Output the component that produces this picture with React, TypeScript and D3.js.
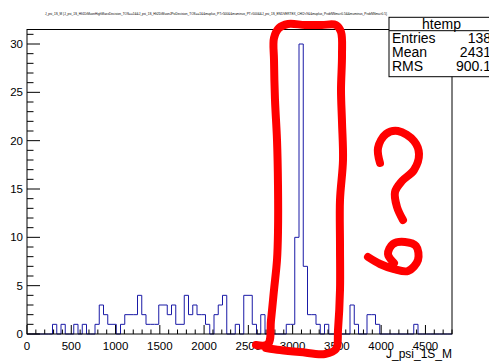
import React from 'react';
import * as d3 from 'd3';

const width = 489;
const height = 364;
const frame = { left: 27, right: 452, top: 29.5, bottom: 334 };

// htemp binning
const xMin = 0;
const xMax = 4800;
const nBins = 100;
const yMax = 31.5;

// non-empty bins (bin index) and their entries
const filledBins = [6, 8, 11, 13, 16, 17, 18, 19, 20, 22, 23, 24, 25, 26, 27, 28, 29, 30, 31, 32, 33, 34, 35, 36, 37, 38, 39, 40, 41, 42, 44, 45, 46, 49, 51, 52, 53, 55, 61, 62, 63, 64, 65, 66, 67, 68, 70, 76, 77, 80, 81, 82, 91];
const filledCounts = [1, 1, 1, 1, 1, 3, 2, 1, 1, 1, 2, 2, 2, 4, 2, 1, 1, 1, 3, 3, 2, 3, 1, 1, 4, 2, 3, 2, 2, 1, 2, 3, 4, 1, 4, 4, 1, 2, 1, 1, 10, 30, 7, 2, 2, 1, 1, 3, 1, 2, 2, 1, 1];

const xTickLabels = ['0', '500', '1000', '1500', '2000', '2500', '3000', '3500', '4000', '4500'];
const yTickLabels = ['0', '5', '10', '15', '20', '25', '30'];

const xTitle = 'J_psi_1S_M';
const plotTitle = 'J_psi_1S_M {J_psi_1S_Hlt1DiMuonHighMassDecision_TOS==1&&J_psi_1S_Hlt2DiMuonJPsiDecision_TOS==1&&muplus_PT>500&&muminus_PT>500&&J_psi_1S_ENDVERTEX_CHI2<9&&muplus_ProbNNmu>0.5&&muminus_ProbNNmu>0.5}';

const statsName = 'htemp';
const statsKeys = ['Entries', 'Mean', 'RMS'];
const statsValues = ['138', '2431', '900.1'];

const font = '"Liberation Sans", Arial, Helvetica, sans-serif';

const App = () => {
  const xScale = d3.scaleLinear().domain([xMin, xMax]).range([frame.left, frame.right]);
  const yScale = d3.scaleLinear().domain([0, yMax]).range([frame.bottom, frame.top]);
  const binWidth = (xMax - xMin) / nBins;

  // full list of bin contents
  const counts = d3.range(nBins).map(() => 0);
  filledBins.forEach((b, i) => { counts[b] = filledCounts[i]; });

  // outline like ROOT's default histogram drawing
  const pts: [number, number][] = [[xMin, 0]];
  counts.forEach((c, i) => pts.push([xMin + i * binWidth, c]));
  pts.push([xMax, counts[nBins - 1]]);
  pts.push([xMax, 0]);
  const outline = d3.line<[number, number]>()
    .x(d => xScale(d[0]))
    .y(d => yScale(d[1]))
    .curve(d3.curveStepAfter)(pts);

  const xMajor = xTickLabels.map(Number);
  const xMinor = d3.range(0, xMax + 1, 100);
  const yMajor = yTickLabels.map(Number);
  const yMinor = d3.range(0, 32, 1);

  // hand drawn red marks on top of the plot
  const line = d3.line().curve(d3.curveCatmullRom.alpha(0.5));
  const loop: [number, number][] = [[256, 345], [268, 344], [271, 320], [274, 290], [277, 260], [278, 232], [278, 185], [277, 140], [275, 100], [274, 60], [274, 38], [279, 28], [288, 24], [305, 25], [322, 25], [336, 25], [341, 32], [342, 55], [341, 90], [342, 122], [343, 160], [340, 200], [340, 245], [340, 290], [338, 330], [336, 349], [325, 354], [300, 352], [280, 350], [266, 348]];
  const question: [number, number][] = [[380, 163], [378, 148], [386, 134], [398, 131], [414, 141], [419, 154], [414, 170], [402, 181], [395, 192], [397, 207], [403, 220]];
  const six: [number, number][] = [[368, 257], [380, 264], [394, 269], [408, 271], [418, 260], [416, 246], [405, 242], [393, 244], [388, 254], [394, 263]];

  const sx = { left: 389, top: 17.3, right: 494, head: 30.7, bottom: 76.7 };

  return (
    <svg width={width} height={height} style={{ position: 'fixed', left: 0, top: 0, background: '#fff' }}>
      <rect x={0} y={0} width={width} height={height} fill='#fff' />

      {/* title */}
      <text x={45} y={14.5} fontFamily={font} fontSize={4} textLength={342} lengthAdjust='spacingAndGlyphs' fill='#000'>{plotTitle}</text>

      {/* histogram */}
      <path d={outline || ''} fill='none' stroke='#1a1aa6' strokeWidth={1} />

      {/* frame */}
      <rect x={frame.left} y={frame.top} width={frame.right - frame.left} height={frame.bottom - frame.top} fill='none' stroke='#000' strokeWidth={1} />

      {/* x axis */}
      <g>
        {xMinor.map(v => (
          <line key={'xm' + v} x1={xScale(v)} x2={xScale(v)} y1={frame.bottom} y2={frame.bottom - (v % 500 === 0 ? 9 : 4.5)} stroke='#000' strokeWidth={1} />
        ))}
        {xMajor.map((v, i) => (
          <text key={'xl' + v} x={xScale(v)} y={350} textAnchor='middle' fontFamily={font} fontSize={11.5}>{xTickLabels[i]}</text>
        ))}
        <text x={frame.right} y={358} textAnchor='end' fontFamily={font} fontSize={12}>{xTitle}</text>
      </g>

      {/* y axis */}
      <g>
        {yMinor.map(v => (
          <line key={'ym' + v} x1={frame.left} x2={frame.left + (v % 5 === 0 ? 13 : 6.5)} y1={yScale(v)} y2={yScale(v)} stroke='#000' strokeWidth={1} />
        ))}
        {yMajor.map((v, i) => (
          <text key={'yl' + v} x={23} y={yScale(v) + 4} textAnchor='end' fontFamily={font} fontSize={11.5}>{yTickLabels[i]}</text>
        ))}
      </g>

      {/* stats box */}
      <g fontFamily={font} fontSize={14}>
        <rect x={sx.left} y={sx.top} width={sx.right - sx.left} height={sx.bottom - sx.top} fill='#fff' stroke='#000' strokeWidth={1} />
        <line x1={sx.left} x2={sx.right} y1={sx.head} y2={sx.head} stroke='#000' strokeWidth={1} />
        <text x={(sx.left + sx.right) / 2} y={28.5} textAnchor='middle'>{statsName}</text>
        {statsKeys.map((k, i) => (
          <g key={k}>
            <text x={392} y={43.3 + i * 13.7}>{k}</text>
            <text x={491} y={43.3 + i * 13.7} textAnchor='end'>{statsValues[i]}</text>
          </g>
        ))}
      </g>

      {/* red annotation */}
      <g fill='none' stroke='#ff0000' strokeWidth={8} strokeLinecap='round' strokeLinejoin='round'>
        <path d={line(loop) || ''} />
        <path d={line(question) || ''} />
        <path d={line(six) || ''} />
      </g>
    </svg>
  );
};

export default App;
